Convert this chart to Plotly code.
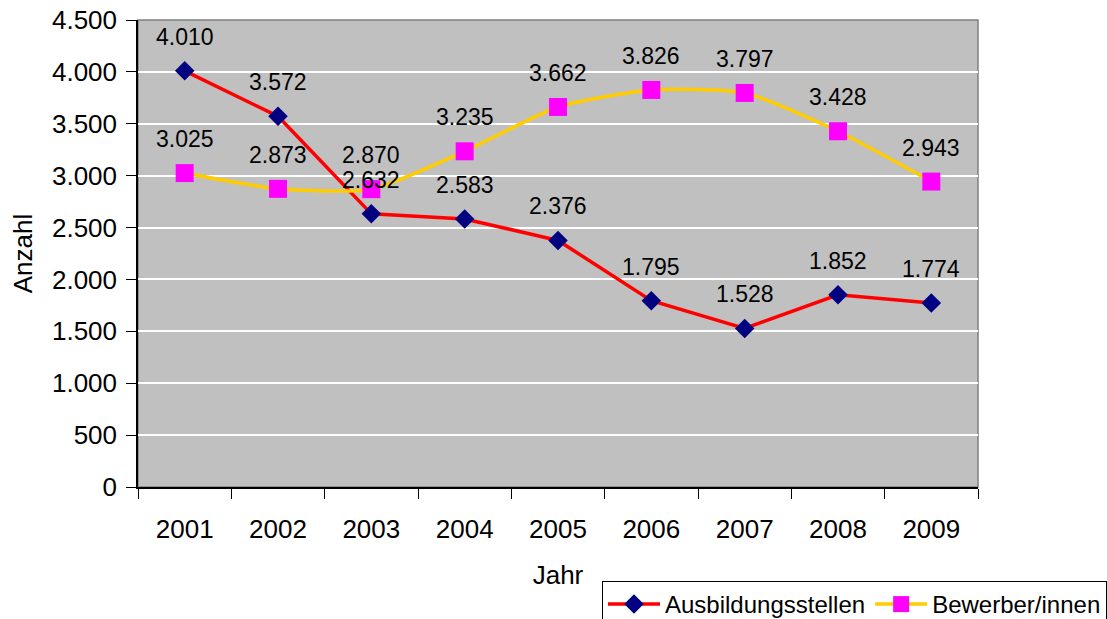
import plotly.graph_objects as go

years = ["2001", "2002", "2003", "2004", "2005", "2006", "2007", "2008", "2009"]
ausbildungsstellen = [4010, 3572, 2632, 2583, 2376, 1795, 1528, 1852, 1774]
bewerber = [3025, 2873, 2870, 3235, 3662, 3826, 3797, 3428, 2943]

FONT = "Liberation Sans, Arial, sans-serif"

fig = go.Figure()
fig.add_trace(go.Scatter(
    x=years, y=ausbildungsstellen, name="Ausbildungsstellen",
    mode="lines+markers",
    line=dict(color="#FF0000", width=3.5),
    marker=dict(symbol="diamond", size=15, color="#000080"),
))
fig.add_trace(go.Scatter(
    x=years, y=bewerber, name="Bewerber/innen",
    mode="lines+markers",
    line=dict(color="#FFCC00", width=3.5, shape="spline", smoothing=0.6),
    marker=dict(symbol="square", size=18, color="#FF00FF"),
))

def fmt(v):
    return f"{v:,}".replace(",", ".")

annotations = []
for series in (ausbildungsstellen, bewerber):
    for i, v in enumerate(series):
        annotations.append(dict(
            x=i, y=v, xref="x", yref="y", text=fmt(v), showarrow=False, yshift=34,
            font=dict(family=FONT, size=23, color="black"),
        ))

fig.update_layout(
    width=1107, height=619,
    margin=dict(l=138, r=129, t=20, b=132, pad=0, autoexpand=False),
    paper_bgcolor="white", plot_bgcolor="#C0C0C0",
    separators=",.",
    font=dict(family=FONT, size=24, color="black"),
    annotations=annotations,
    showlegend=True,
    legend=dict(
        orientation="h", x=(602 - 138) / 840, y=(487 - 581) / 467,
        xanchor="left", yanchor="top",
        bordercolor="black", borderwidth=1, bgcolor="white",
        font=dict(family=FONT, size=24, color="black"),
        itemwidth=52, tracegroupgap=0,
    ),
    shapes=[dict(type="rect", xref="paper", yref="paper", x0=0, y0=0, x1=1, y1=1,
                 line=dict(color="#808080", width=1.5), layer="below")],
)
fig.update_xaxes(
    type="category", showgrid=False, tickson="boundaries",
    ticks="outside", ticklen=10, tickcolor="black", tickwidth=1,
    showline=True, linecolor="black", linewidth=1.5,
    tickfont=dict(family=FONT, size=26), ticklabelstandoff=18,
    title=dict(text="Jahr", font=dict(family=FONT, size=26), standoff=23),
    range=[-0.5, 8.5], ticklabeloverflow="allow",
)
fig.update_yaxes(
    range=[0, 4500], dtick=500, tickformat=",d",
    showgrid=True, gridcolor="white", gridwidth=1.5,
    ticks="outside", ticklen=10, tickcolor="black", tickwidth=1,
    showline=True, linecolor="black", linewidth=1.5,
    tickfont=dict(family=FONT, size=26), ticklabelstandoff=4, zeroline=False,
    ticklabeloverflow="allow",
    title=dict(text="Anzahl", font=dict(family=FONT, size=26), standoff=12),
)

fig.write_html(
    "out.html",
    config={"displayModeBar": False},
    post_script="document.body.style.margin='0';document.body.style.overflow='hidden';",
)
